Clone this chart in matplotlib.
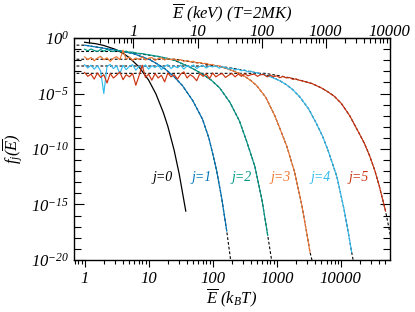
import numpy as np
import matplotlib
matplotlib.use("Agg")
import matplotlib.pyplot as plt
from matplotlib.ticker import FixedLocator, FixedFormatter, FuncFormatter, LogLocator, NullFormatter

plt.rcParams['font.family'] = 'serif'
plt.rcParams['font.serif'] = ['Liberation Serif', 'DejaVu Serif']
plt.rcParams['font.style'] = 'italic'
plt.rcParams['mathtext.fontset'] = 'custom'
plt.rcParams['mathtext.rm'] = 'Liberation Serif:italic'
plt.rcParams['mathtext.it'] = 'Liberation Serif:italic'

KT_KEV = 0.17235  # k_B T in keV for T = 2 MK

# ---- j=0 (Maxwellian, black solid) : log10 E, log10 f
lE0 = [0.0, 0.176, 0.301, 0.477, 0.602, 0.699, 0.845, 1.0, 1.114, 1.230, 1.301, 1.398, 1.477, 1.580]
lf0 = [-0.38, -0.51, -0.67, -1.01, -1.38, -1.77, -2.57, -3.79, -5.04, -6.72, -7.98, -10.1, -12.24, -15.6]

# ---- analytic curves (black dashed) j=1..5
lEa1 = [-0.2, 0.0, 0.25, 0.5, 0.75, 1.0, 1.125, 1.25, 1.4, 1.53, 1.69, 1.84, 1.94, 2.0, 2.06, 2.14, 2.22, 2.28]
lfa1 = [-0.64, -0.64, -0.87, -1.1, -1.38, -1.9, -2.3, -2.75, -3.5, -4.3, -5.65, -7.3, -9.0, -10.4, -11.9, -14.4, -17.4, -20.0]

lEa2 = [-0.2, 0.63, 0.8, 1.0, 1.2, 1.35, 1.48, 1.6, 1.72, 1.84, 1.98, 2.11, 2.27, 2.42, 2.53, 2.66, 2.77, 2.86, 2.92]
lfa2 = [-1.21, -1.21, -1.36, -1.54, -1.72, -1.9, -2.2, -2.5, -2.85, -3.25, -3.8, -4.5, -5.8, -7.5, -9.3, -11.6, -14.6, -17.8, -20.0]

lEa3 = [-0.2, 1.41, 1.6, 1.8, 2.0, 2.15, 2.27, 2.4, 2.5, 2.6, 2.69, 2.83, 2.97, 3.06, 3.16, 3.28, 3.39, 3.47, 3.52, 3.55]
lfa3 = [-1.91, -1.91, -2.08, -2.26, -2.45, -2.62, -2.85, -3.15, -3.45, -3.85, -4.3, -5.35, -7.0, -8.3, -9.8, -12.1, -15.0, -17.6, -19.3, -20.0]

lEa4 = [-0.2, 2.09, 2.3, 2.5, 2.7, 2.9, 3.05, 3.15, 3.25, 3.36, 3.5, 3.62, 3.72, 3.8, 3.94, 4.05, 4.12, 4.17, 4.2]
lfa4 = [-2.52, -2.52, -2.72, -2.92, -3.15, -3.45, -3.85, -4.2, -4.65, -5.3, -6.4, -7.7, -8.9, -10.1, -12.5, -15.4, -17.6, -19.3, -20.2]

lEa5 = [-0.2, 2.82, 3.0, 3.2, 3.4, 3.55, 3.7, 3.8, 3.9, 4.01, 4.14, 4.27, 4.37, 4.45, 4.53, 4.6, 4.7, 4.8]
lfa5 = [-3.18, -3.18, -3.36, -3.58, -3.85, -4.1, -4.5, -4.85, -5.25, -5.9, -7.0, -8.4, -9.5, -10.6, -11.9, -13.3, -15.6, -18.5]

# ---- simulated spectra, noisy low-energy part (log10 E step 0.05 from 0)
lE_grid = [0.00, 0.05, 0.10, 0.15, 0.20, 0.25, 0.30, 0.35, 0.40, 0.45,
           0.50, 0.55, 0.60, 0.65, 0.70, 0.75, 0.80, 0.85, 0.90, 0.95,
           1.00, 1.05, 1.10, 1.15, 1.20, 1.25, 1.30, 1.35, 1.40, 1.45,
           1.50, 1.55, 1.60, 1.65, 1.70, 1.75, 1.80, 1.85, 1.90, 1.95,
           2.00, 2.05, 2.10, 2.15, 2.20, 2.25, 2.30, 2.35, 2.40, 2.45,
           2.50, 2.55, 2.60, 2.65, 2.70, 2.75, 2.80, 2.85, 2.90, 2.95,
           3.00, 3.05, 3.10, 3.15, 3.20, 3.25, 3.30, 3.35, 3.40]

ln2 = [-1.00, -1.15, -0.98, -1.12, -1.20, -1.04, -1.18, -1.02, -1.15, -1.22,
       -1.08, -1.18, -1.24, -1.18, -1.30, -1.26, -1.36, -1.38, -1.40, -1.46,
       -1.52, -1.55, -1.62, -1.64, -1.72, -1.78, -1.84, -1.92, -2.00, -2.08]

ln3 = [-1.70, -1.95, -1.75, -2.05, -1.80, -1.65, -1.95, -1.78, -2.10, -1.82,
       -1.68, -1.95, -1.10, -1.90, -1.72, -2.00, -1.80, -1.92, -1.70, -1.98,
       -1.82, -1.75, -2.02, -1.85, -1.78, -1.98, -1.86, -1.95, -1.88, -2.02,
       -1.95, -2.10, -2.02, -2.15, -2.10, -2.25, -2.20, -2.30, -2.28, -2.40,
       -2.38, -2.50, -2.50, -2.64, -2.70, -2.84]

ln4 = [-2.40, -2.70, -2.45, -2.80, -2.50, -2.95, -5.00, -2.55, -2.38, -2.75,
       -2.50, -3.20, -2.45, -2.85, -2.55, -2.40, -2.90, -2.55, -2.70, -2.42,
       -2.80, -2.50, -2.65, -2.45, -2.85, -2.55, -2.40, -2.75, -2.52, -2.68,
       -2.45, -2.80, -2.50, -2.62, -2.42, -2.75, -2.55, -2.48, -2.70, -2.52,
       -2.60, -2.50, -2.72, -2.58, -2.65, -2.80, -2.70, -2.88, -2.80, -2.95,
       -2.88, -3.05, -2.98, -3.15, -3.10, -3.30, -3.25, -3.45, -3.48]

ln5 = [-3.10, -3.45, -3.25, -3.70, -3.15, -3.55, -3.30, -4.05, -3.20, -3.60,
       -3.35, -3.05, -3.75, -3.30, -3.50, -3.20, -4.25, -3.40, -2.45, -3.55,
       -3.25, -3.80, -3.20, -3.60, -3.35, -3.95, -3.15, -3.50, -3.30, -3.70,
       -3.25, -3.05, -3.60, -3.30, -3.50, -3.85, -3.20, -3.45, -3.25, -3.65,
       -3.15, -3.50, -3.30, -3.20, -3.55, -3.35, -3.20, -3.50, -3.25, -3.45,
       -3.22, -3.40, -3.30, -3.25, -3.45, -3.30, -3.28, -3.50, -3.35, -3.48,
       -3.40, -3.58, -3.45, -3.60, -3.55, -3.72, -3.68, -3.80, -3.86]

# last log10 E of each simulated spectrum
data_end = [1.580, 2.22, 2.86, 3.52, 4.17, 4.70]

colors = ['black', '#0077BB', '#009988', '#EE7733', '#33BBEE', '#CC3311']
labels = ['j=0', 'j=1', 'j=2', 'j=3', 'j=4', 'j=5']
label_E = [16.3, 66.6, 281, 1150, 4880, 19000]

analytic = [(lEa1, lfa1), (lEa2, lfa2), (lEa3, lfa3), (lEa4, lfa4), (lEa5, lfa5)]
noisy = [None, ln2, ln3, ln4, ln5]

fig = plt.figure(figsize=(4.15, 3.12), dpi=100)
ax = fig.add_axes([0.178, 0.167, 0.762, 0.711])

# analytic (dashed, beneath)
for lE, lf in analytic:
    ax.plot(10**np.array(lE), 10**np.array(lf), color='black', lw=0.8,
            ls=(0, (2.5, 1.8)), zorder=2)

# simulated spectra
ax.plot(10**np.array(lE0), 10**np.array(lf0), color=colors[0], lw=0.9, zorder=3)
for j in range(1, 6):
    lE, lf = analytic[j - 1]
    lE = np.array(lE)
    lf = np.array(lf)
    if noisy[j - 1] is None:
        sel = (lE >= 0) & (lE <= data_end[j])
        xs, ys = lE[sel], lf[sel]
    else:
        n = noisy[j - 1]
        xn = np.array(lE_grid[:len(n)])
        sel = (lE > xn[-1]) & (lE <= data_end[j])
        xs = np.concatenate([xn, lE[sel]])
        ys = np.concatenate([n, lf[sel]])
    ax.plot(10**xs, 10**ys, color=colors[j], lw=0.85, zorder=3)

for j in range(6):
    ax.text(label_E[j], 2.5e-13, labels[j], color=colors[j], fontsize=10,
            ha='center', va='center')

ax.set_xscale('log')
ax.set_yscale('log')
ax.set_xlim(0.68, 5.9e4)
ax.set_ylim(1e-20, 1)

ax.xaxis.set_major_locator(FixedLocator([1, 10, 100, 1000, 10000]))
ax.xaxis.set_major_formatter(FixedFormatter(['1', '10', '100', '1000', '10000']))
ax.xaxis.set_minor_locator(LogLocator(base=10, subs=np.arange(2, 10), numticks=20))
ax.xaxis.set_minor_formatter(NullFormatter())

ax.yaxis.set_major_locator(FixedLocator([1e-20, 1e-15, 1e-10, 1e-5, 1]))
ax.yaxis.set_major_formatter(FuncFormatter(lambda v, p: r'$10^{%d}$' % int(round(np.log10(v)))))
ax.yaxis.set_minor_locator(FixedLocator([10.0**-k for k in range(21) if k % 5]))
ax.yaxis.set_minor_formatter(NullFormatter())

ax.tick_params(axis='x', which='major', direction='out', length=5, width=0.8, top=False, labelsize=12, pad=3)
ax.tick_params(axis='x', which='minor', direction='out', length=3, width=0.8, top=False)
ax.tick_params(axis='y', which='major', direction='in', length=7, width=0.8, left=True, right=True, labelsize=12)
ax.tick_params(axis='y', which='minor', direction='in', length=5, width=0.8, left=True, right=True)

for s in ax.spines.values():
    s.set_linewidth(1.0)

sec = ax.secondary_xaxis('top', functions=(lambda e: e * KT_KEV, lambda k: k / KT_KEV))
sec.xaxis.set_major_locator(FixedLocator([1, 10, 100, 1000, 10000]))
sec.xaxis.set_major_formatter(FixedFormatter(['1', '10', '100', '1000', '10000']))
sec.xaxis.set_minor_locator(LogLocator(base=10, subs=np.arange(2, 10), numticks=20))
sec.xaxis.set_minor_formatter(NullFormatter())
sec.tick_params(axis='x', which='major', direction='in', length=7, width=0.8, labelsize=12, pad=-1.5)
sec.tick_params(axis='x', which='minor', direction='in', length=3.5, width=0.8)
sec.set_xlabel(r'$\overline{E}$ (keV) (T=2MK)', fontsize=12, labelpad=4.5)

ax.set_xlabel(r'$\overline{E}\ (k_BT)$', fontsize=12, labelpad=0)
ax.set_ylabel(r'$f_j(\overline{E})$', fontsize=12, labelpad=4)

fig.savefig('out.png', dpi=100)
